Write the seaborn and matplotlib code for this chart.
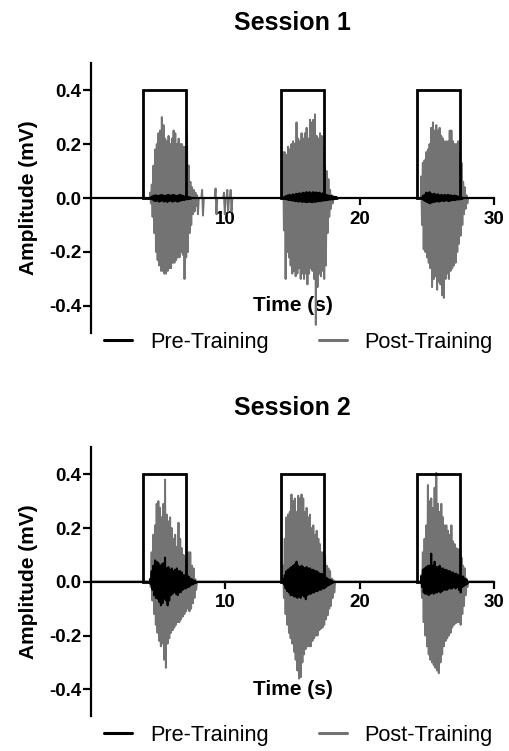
import numpy as np
import pandas as pd
import matplotlib
matplotlib.use("Agg")
import matplotlib.pyplot as plt
from matplotlib.patches import Rectangle
from matplotlib.lines import Line2D
from matplotlib.ticker import FormatStrFormatter
import seaborn as sns

STEP = 0.125  # spacing of the envelope readings (s)

# ---- Session 1 -------------------------------------------------------------
s1_post_on = [4.4, 7.9, 14.3, 24.58]
s1_post_up = [
    [0.02, 0.05, 0.12, 0.18, 0.20, 0.24, 0.25, 0.30, 0.27, 0.22, 0.21, 0.23, 0.20, 0.22,
     0.25, 0.24, 0.20, 0.22, 0.20, 0.20, 0.19, 0.19, 0.24, 0.12, 0.06, 0.04, 0.03, 0.02],
    [0.01, 0.0, 0.0, 0.03, 0.0, 0.0, 0.0, 0.0, 0.0, 0.0, 0.0, 0.035, 0.0, 0.0, 0.0, 0.0,
     0.02, 0.0, 0.03, 0.0, 0.03],
    [0.17, 0.17, 0.16, 0.19, 0.18, 0.20, 0.21, 0.20, 0.28, 0.22, 0.21, 0.24, 0.22, 0.24, 0.26,
     0.22, 0.29, 0.28, 0.29, 0.31, 0.23, 0.22, 0.24, 0.23, 0.19, 0.12, 0.10, 0.07, 0.03, 0.01],
    [0.08, 0.13, 0.14, 0.17, 0.18, 0.20, 0.26, 0.28, 0.25, 0.27, 0.25, 0.26, 0.23, 0.22,
     0.21, 0.21, 0.21, 0.25, 0.25, 0.21, 0.20, 0.20, 0.21, 0.17, 0.13, 0.06, 0.04, 0.01],
]
s1_post_lo = [
    [-0.02, -0.07, -0.13, -0.20, -0.23, -0.25, -0.27, -0.27, -0.28, -0.28, -0.27, -0.26, -0.26, -0.24,
     -0.24, -0.23, -0.22, -0.22, -0.20, -0.21, -0.30, -0.22, -0.20, -0.13, -0.10, -0.06, -0.05, -0.03],
    [-0.06, 0.0, 0.0, -0.065, 0.0, 0.0, 0.0, 0.0, 0.0, 0.0, 0.0, -0.06, 0.0, 0.0, 0.0, 0.0,
     -0.06, 0.0, -0.05, 0.0, -0.05],
    [-0.12, -0.30, -0.20, -0.22, -0.25, -0.28, -0.27, -0.29, -0.28, -0.26, -0.30, -0.28, -0.30, -0.28, -0.32,
     -0.28, -0.26, -0.27, -0.30, -0.47, -0.33, -0.28, -0.29, -0.27, -0.30, -0.25, -0.13, -0.07, -0.04, -0.02],
    [-0.10, -0.19, -0.20, -0.22, -0.24, -0.26, -0.33, -0.30, -0.29, -0.34, -0.31, -0.32, -0.36, -0.37,
     -0.30, -0.28, -0.30, -0.27, -0.26, -0.25, -0.24, -0.20, -0.17, -0.14, -0.10, -0.06, -0.04, -0.02],
]

s1_pre_on = [4.5, 14.4, 24.7]
s1_pre_up = [
    [0.005, 0.008, 0.01, 0.01, 0.008, 0.01, 0.012, 0.01, 0.008, 0.01, 0.012, 0.01, 0.01, 0.012,
     0.01, 0.008, 0.01, 0.012, 0.01, 0.008, 0.006, 0.005, 0.004, 0.003],
    [0.005, 0.008, 0.01, 0.012, 0.01, 0.014, 0.012, 0.016, 0.015, 0.018, 0.016, 0.02, 0.018, 0.022,
     0.02, 0.022, 0.018, 0.022, 0.02, 0.021, 0.018, 0.02, 0.016, 0.018, 0.014, 0.012, 0.01, 0.008,
     0.008, 0.006, 0.005, 0.004],
    [0.008, 0.012, 0.02, 0.018, 0.022, 0.016, 0.014, 0.016, 0.012, 0.014, 0.01, 0.012, 0.01, 0.012,
     0.01, 0.012, 0.01, 0.01, 0.008, 0.01, 0.008, 0.006, 0.005, 0.004],
]
s1_pre_lo = [
    [-0.006, -0.01, -0.012, -0.01, -0.014, -0.012, -0.01, -0.014, -0.012, -0.015, -0.012, -0.01, -0.014,
     -0.012, -0.01, -0.014, -0.012, -0.01, -0.008, -0.008, -0.006, -0.005, -0.004, -0.003],
    [-0.004, -0.006, -0.008, -0.008, -0.01, -0.01, -0.012, -0.012, -0.014, -0.012, -0.015, -0.014, -0.015,
     -0.016, -0.014, -0.015, -0.016, -0.014, -0.015, -0.013, -0.012, -0.012, -0.01, -0.01, -0.009,
     -0.008, -0.007, -0.006, -0.006, -0.005, -0.004, -0.004],
    [-0.008, -0.012, -0.015, -0.018, -0.02, -0.016, -0.015, -0.014, -0.012, -0.014, -0.012, -0.01, -0.012,
     -0.01, -0.01, -0.012, -0.01, -0.008, -0.008, -0.008, -0.006, -0.006, -0.005, -0.004],
]

# ---- Session 2 -------------------------------------------------------------
s2_post_on = [4.39, 14.3, 24.58]
s2_post_up = [
    [0.01, 0.11, 0.175, 0.21, 0.29, 0.30, 0.275, 0.24, 0.29, 0.38, 0.25, 0.225, 0.24, 0.20,
     0.16, 0.175, 0.13, 0.22, 0.16, 0.125, 0.10, 0.08, 0.09, 0.11, 0.11, 0.06, 0.05, 0.01],
    [0.06, 0.16, 0.24, 0.25, 0.26, 0.325, 0.30, 0.31, 0.26, 0.32, 0.31, 0.325, 0.31, 0.26, 0.275,
     0.24, 0.25, 0.20, 0.21, 0.175, 0.19, 0.16, 0.14, 0.11, 0.11, 0.10, 0.06, 0.05, 0.04, 0.012, 0.006],
    [0.025, 0.11, 0.16, 0.21, 0.36, 0.30, 0.31, 0.275, 0.35, 0.405, 0.29, 0.26, 0.29, 0.24,
     0.21, 0.21, 0.19, 0.175, 0.21, 0.15, 0.14, 0.125, 0.12, 0.125, 0.09, 0.06, 0.05, 0.012],
]
s2_post_lo = [
    [-0.02, -0.07, -0.12, -0.16, -0.19, -0.22, -0.24, -0.23, -0.29, -0.32, -0.23, -0.21, -0.19, -0.18,
     -0.17, -0.16, -0.15, -0.15, -0.14, -0.13, -0.12, -0.11, -0.10, -0.11, -0.10, -0.08, -0.06, -0.03],
    [-0.06, -0.12, -0.16, -0.19, -0.21, -0.23, -0.26, -0.29, -0.33, -0.36, -0.355, -0.30, -0.27, -0.25,
     -0.24, -0.24, -0.24, -0.22, -0.21, -0.20, -0.20, -0.18, -0.175, -0.17, -0.16, -0.14, -0.125,
     -0.10, -0.09, -0.06, -0.04],
    [-0.06, -0.15, -0.20, -0.24, -0.27, -0.29, -0.30, -0.31, -0.32, -0.33, -0.34, -0.30, -0.27, -0.24,
     -0.22, -0.21, -0.20, -0.19, -0.17, -0.16, -0.155, -0.15, -0.15, -0.16, -0.12, -0.09, -0.05, -0.02],
]

s2_pre_on = [4.39, 14.3, 24.58]
s2_pre_up = [
    [0.01, 0.04, 0.06, 0.08, 0.075, 0.07, 0.06, 0.065, 0.07, 0.09, 0.05, 0.055, 0.045, 0.05,
     0.04, 0.045, 0.05, 0.04, 0.04, 0.035, 0.025, 0.025, 0.02, 0.02, 0.012, 0.01, 0.006, 0.004],
    [0.01, 0.025, 0.04, 0.045, 0.05, 0.055, 0.06, 0.065, 0.075, 0.06, 0.055, 0.06, 0.055, 0.05, 0.055,
     0.05, 0.05, 0.045, 0.045, 0.04, 0.04, 0.035, 0.03, 0.03, 0.025, 0.02, 0.015, 0.01, 0.008, 0.005],
    [0.02, 0.045, 0.05, 0.055, 0.06, 0.06, 0.105, 0.06, 0.075, 0.055, 0.055, 0.06, 0.05, 0.05,
     0.045, 0.045, 0.04, 0.04, 0.035, 0.035, 0.03, 0.03, 0.025, 0.025, 0.02, 0.02, 0.012, 0.008],
]
s2_pre_lo = [
    [-0.01, -0.03, -0.05, -0.06, -0.063, -0.075, -0.088, -0.08, -0.063, -0.07, -0.088, -0.07, -0.05, -0.045,
     -0.038, -0.045, -0.05, -0.04, -0.038, -0.03, -0.025, -0.025, -0.02, -0.018, -0.012, -0.01, -0.006, -0.004],
    [-0.01, -0.025, -0.035, -0.04, -0.05, -0.05, -0.055, -0.055, -0.06, -0.055, -0.06, -0.05, -0.055, -0.065,
     -0.05, -0.045, -0.045, -0.04, -0.04, -0.035, -0.035, -0.03, -0.03, -0.025, -0.025, -0.02, -0.015,
     -0.012, -0.008, -0.005],
    [-0.02, -0.04, -0.045, -0.045, -0.05, -0.045, -0.04, -0.045, -0.04, -0.04, -0.035, -0.04, -0.035, -0.03,
     -0.03, -0.03, -0.025, -0.025, -0.025, -0.02, -0.025, -0.02, -0.03, -0.04, -0.02, -0.015, -0.012, -0.008],
]

# stimulus windows (s) and marker height (mV)
box_start = [3.9, 14.15, 24.3]
box_width = 3.2
box_height = 0.4

T_END = 30.0
PRE, POST = "Pre-Training", "Post-Training"
colors = {PRE: "black", POST: "#737373"}


def build_trace(onsets, ups, los):
    # flat baseline between bursts, each burst drawn peak to trough
    t, a = [0.0], [0.0]
    for t0, up, lo in zip(onsets, ups, los):
        t.append(t0)
        a.append(0.0)
        for i, (u, l) in enumerate(zip(up, lo)):
            t += [t0 + i * STEP, t0 + (i + 0.5) * STEP]
            a += [u, l]
        t.append(t0 + len(up) * STEP)
        a.append(0.0)
    t.append(T_END)
    a.append(0.0)
    return t, a


rows = []
for session, series in [
    ("Session 1", {PRE: (s1_pre_on, s1_pre_up, s1_pre_lo), POST: (s1_post_on, s1_post_up, s1_post_lo)}),
    ("Session 2", {PRE: (s2_pre_on, s2_pre_up, s2_pre_lo), POST: (s2_post_on, s2_post_up, s2_post_lo)}),
]:
    for cond, (on, up, lo) in series.items():
        t, a = build_trace(on, up, lo)
        rows.append(pd.DataFrame({"session": session, "condition": cond, "time": t, "amp": a}))
df = pd.concat(rows, ignore_index=True)

sns.set_style("ticks")
plt.rcParams["font.family"] = ["Liberation Sans", "DejaVu Sans"]
plt.rcParams["axes.unicode_minus"] = False
plt.rcParams["text.color"] = "black"
plt.rcParams["axes.labelcolor"] = "black"
plt.rcParams["xtick.color"] = "black"
plt.rcParams["ytick.color"] = "black"

fig = plt.figure(figsize=(5.10, 7.51), dpi=100)
ax_pos = {"Session 1": [0.1784, 0.5566, 0.7902, 0.3595],
          "Session 2": [0.1784, 0.0463, 0.7902, 0.3580]}
legend_y = {"Session 1": 0.5446, "Session 2": 0.0213}

for session in ["Session 1", "Session 2"]:
    ax = fig.add_axes(ax_pos[session])
    sub = df[df["session"] == session]
    sns.lineplot(data=sub, x="time", y="amp", hue="condition", hue_order=[POST, PRE],
                 palette=colors, estimator=None, sort=False, legend=False,
                 linewidth=1.4, ax=ax)

    for x0 in box_start:
        ax.add_patch(Rectangle((x0, 0), box_width, box_height, fill=False,
                               edgecolor="black", linewidth=2.0, zorder=4))

    ax.set_xlim(0, T_END)
    ax.set_ylim(-0.5, 0.5)
    sns.despine(ax=ax)
    ax.spines["bottom"].set_position(("data", 0))
    for sp in ["left", "bottom"]:
        ax.spines[sp].set_linewidth(1.6)
        ax.spines[sp].set_color("black")

    ax.set_xticks([10, 20, 30])
    ax.set_yticks([-0.4, -0.2, 0.0, 0.2, 0.4])
    ax.yaxis.set_major_formatter(FormatStrFormatter("%.1f"))
    ax.tick_params(axis="x", length=5, width=1.6, pad=4, labelsize=13.5, colors="black")
    ax.tick_params(axis="y", length=6, width=1.6, pad=1, labelsize=13.5, colors="black")
    for lab in ax.get_xticklabels() + ax.get_yticklabels():
        lab.set_fontweight("bold")

    ax.set_xlabel("Time (s)", fontsize=15, fontweight="bold", color="black")
    ax.xaxis.label.set_va("center")
    ax.xaxis.set_label_coords(0.5, 0.1)
    ax.set_ylabel("Amplitude (mV)", fontsize=15, fontweight="bold", color="black")
    ax.yaxis.label.set_va("center")
    ax.yaxis.set_label_coords(-0.156, 0.5)
    ax.set_title(session, fontsize=18, fontweight="bold", pad=23.5, color="black")

    handles = [Line2D([], [], color=colors[PRE], lw=2.2),
               Line2D([], [], color=colors[POST], lw=2.2)]
    fig.legend(handles, [PRE, POST], loc="center", bbox_to_anchor=(0.585, legend_y[session]),
               ncol=2, frameon=False, fontsize=15.7, handlelength=1.3,
               handletextpad=0.8, columnspacing=2.3, labelcolor="black")

fig.savefig("out.png", dpi=100)
